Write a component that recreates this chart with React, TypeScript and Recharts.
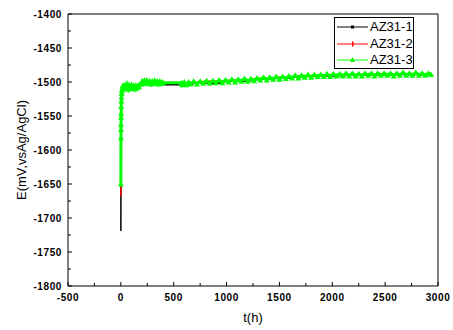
import { Legend, Line, LineChart, ReferenceLine, XAxis, YAxis } from 'recharts';

// open circuit potential vs time, [t (h), E (mV vs Ag/AgCl)]
const az31_1: [number, number][] = [
  [0, -1719], [0.5, -1680], [1, -1640], [1.5, -1612], [2, -1590], [3, -1552],
  [5, -1530], [8, -1519], [12, -1513], [20, -1510], [30, -1509], [45, -1511],
  [60, -1509], [80, -1512], [100, -1510], [120, -1512], [140, -1509], [170, -1507],
  [200, -1502], [240, -1503], [280, -1502], [320, -1503], [360, -1504], [400, -1504],
  [575, -1504], [620, -1505], [700, -1502], [800, -1501], [900, -1503], [1000, -1499],
  [1100, -1498], [1200, -1499], [1300, -1496], [1400, -1496], [1500, -1494],
  [1600, -1494], [1700, -1492], [1800, -1492], [1900, -1491], [2000, -1491],
  [2200, -1490], [2400, -1490], [2600, -1489], [2800, -1489], [2935, -1489],
];

const az31_2: [number, number][] = [
  [0, -1668], [0.5, -1640], [1, -1600], [2, -1566], [3, -1545], [5, -1526],
  [8, -1514], [12, -1507], [20, -1504], [30, -1506], [45, -1507], [60, -1505],
  [80, -1508], [100, -1506], [120, -1508], [140, -1506], [170, -1504], [200, -1499],
  [240, -1499], [280, -1500], [320, -1499], [360, -1500], [400, -1501],
  [575, -1501], [620, -1501], [700, -1501], [800, -1499], [900, -1499], [1000, -1498],
  [1100, -1497], [1200, -1497], [1300, -1495], [1400, -1495], [1500, -1493],
  [1600, -1493], [1700, -1491], [1800, -1491], [1900, -1491], [2000, -1490],
  [2200, -1490], [2400, -1489], [2600, -1489], [2800, -1488], [2935, -1489],
];

const az31_3: [number, number][] = [
  [0, -1650], [1, -1582], [1.5, -1570], [2, -1562], [2.5, -1552], [3, -1546],
  [4, -1536], [5, -1528], [6, -1522], [8, -1517], [10, -1513], [13, -1510],
  [16, -1506], [20, -1510], [25, -1505], [30, -1509], [36, -1505], [42, -1510],
  [50, -1505], [58, -1509], [66, -1505], [75, -1510], [84, -1506], [93, -1509],
  [102, -1505], [112, -1509], [122, -1506], [132, -1510], [142, -1506], [152, -1509],
  [162, -1505], [172, -1507], [182, -1503], [192, -1503], [202, -1499], [212, -1502],
  [224, -1498], [236, -1502], [248, -1498], [260, -1502], [272, -1499], [284, -1503],
  [296, -1499], [308, -1502], [320, -1498], [332, -1502], [344, -1499], [356, -1503],
  [368, -1499], [380, -1502], [392, -1500], [400, -1501],
  [575, -1501], [580, -1504], [600, -1500], [620, -1504], [640, -1500], [660, -1503],
  [690, -1499], [720, -1503], [750, -1499], [780, -1502], [810, -1498], [840, -1502],
  [870, -1498], [900, -1501], [930, -1497], [960, -1501], [990, -1497], [1020, -1500],
  [1050, -1496], [1080, -1500], [1110, -1496], [1140, -1499], [1170, -1495], [1200, -1499],
  [1230, -1495], [1260, -1498], [1290, -1494], [1320, -1497], [1350, -1493], [1380, -1497],
  [1410, -1493], [1440, -1496], [1470, -1492], [1500, -1496], [1530, -1492], [1560, -1495],
  [1590, -1491], [1620, -1494], [1650, -1490], [1680, -1494], [1710, -1490], [1740, -1493],
  [1770, -1489], [1800, -1493], [1830, -1489], [1860, -1492], [1890, -1489], [1920, -1492],
  [1950, -1488], [1980, -1492], [2010, -1488], [2040, -1491], [2070, -1488], [2100, -1491],
  [2130, -1487], [2160, -1491], [2190, -1487], [2220, -1491], [2250, -1488], [2280, -1491],
  [2310, -1487], [2340, -1490], [2370, -1487], [2400, -1491], [2430, -1487], [2460, -1490],
  [2490, -1487], [2520, -1490], [2550, -1487], [2580, -1491], [2610, -1487], [2640, -1490],
  [2670, -1486], [2700, -1490], [2730, -1487], [2760, -1490], [2790, -1486], [2820, -1490],
  [2850, -1487], [2880, -1490], [2910, -1487], [2935, -1489],
];

const xTicks = [-500, -250, 0, 250, 500, 750, 1000, 1250, 1500, 1750, 2000, 2250, 2500, 2750, 3000];
const xLabels = [-500, 0, 500, 1000, 1500, 2000, 2500, 3000];
const yTicks = [
  -1800, -1775, -1750, -1725, -1700, -1675, -1650, -1625, -1600, -1575, -1550,
  -1525, -1500, -1475, -1450, -1425, -1400,
];
const yLabels = [-1800, -1750, -1700, -1650, -1600, -1550, -1500, -1450, -1400];

const FONT = 'Arial, "Liberation Sans", sans-serif';
const X_MARGIN = 8;
const Y_MARGIN = 6;

const toRows = (pts: [number, number][]) => pts.map(([t, e]) => ({ t, e }));

const XTick = (props: any) => {
  const { x, y, payload } = props;
  const v = payload.value as number;
  const major = xLabels.includes(v);
  const axisY = y - X_MARGIN;
  return (
    <g>
      <line x1={x} x2={x} y1={axisY} y2={axisY - (major ? 4 : 3)} stroke='#000' />
      {major && (
        <text
          x={x}
          y={y}
          dy='0.72em'
          textAnchor='middle'
          fontSize={10}
          fontWeight='bold'
          letterSpacing={0.6}
          fontFamily={FONT}
          fill='#000'
        >
          {v}
        </text>
      )}
    </g>
  );
};

const YTick = (props: any) => {
  const { x, y, payload } = props;
  const v = payload.value as number;
  const major = yLabels.includes(v);
  const axisX = x + Y_MARGIN;
  return (
    <g>
      <line x1={axisX} x2={axisX + (major ? 4 : 3)} y1={y} y2={y} stroke='#000' />
      {major && (
        <text
          x={x}
          y={y}
          dy='0.36em'
          textAnchor='end'
          fontSize={10}
          fontWeight='bold'
          letterSpacing={0.6}
          fontFamily={FONT}
          fill='#000'
        >
          {v}
        </text>
      )}
    </g>
  );
};

const Triangle = (props: any) => {
  const { cx, cy, index } = props;
  if (cx == null || cy == null) return <g key={index} />;
  return (
    <path
      key={index}
      d={`M${cx},${cy - 3} L${cx + 3},${cy + 2.5} L${cx - 3},${cy + 2.5} Z`}
      fill='#00ff00'
    />
  );
};

const LegendBox = (props: any) => {
  const items = props.payload ?? [];
  return (
    <div
      style={{
        border: '1px solid #000',
        background: '#fff',
        width: 78,
        height: 49,
        paddingTop: 1,
        boxSizing: 'content-box',
        fontFamily: FONT,
        fontSize: 13,
        color: '#000',
        whiteSpace: 'nowrap',
        textAlign: 'left',
        lineHeight: '16.5px',
      }}
    >
      {items.map((it: any, i: number) => (
        <div key={i} style={{ display: 'flex', alignItems: 'center', height: 16.5 }}>
          <svg width={33} height={10} style={{ marginLeft: 1, flex: 'none' }}>
            <line x1={1} x2={32} y1={5} y2={5} stroke={it.color} strokeWidth={1} />
            {i === 0 && <rect x={15} y={3.5} width={3} height={3} fill={it.color} />}
            {i === 1 && <rect x={16} y={2.5} width={1.5} height={5} fill={it.color} />}
            {i === 2 && <path d='M16.5,2 L19,7 L14,7 Z' fill={it.color} />}
          </svg>
          <span style={{ marginLeft: 1 }}>{it.value}</span>
        </div>
      ))}
    </div>
  );
};

export default function App() {
  return (
    <div style={{ position: 'absolute', left: 0, top: 0, background: '#fff' }}>
      <LineChart width={453} height={330} margin={{ top: 14, right: 15, bottom: 0, left: 0 }}>
        <XAxis
          type='number'
          dataKey='t'
          domain={[-500, 3000]}
          ticks={xTicks}
          interval={0}
          allowDataOverflow
          height={44}
          tickSize={0}
          tickMargin={X_MARGIN}
          tickLine={false}
          axisLine={{ stroke: '#000' }}
          tick={(p: any) => <XTick {...p} />}
          label={{
            content: (p: any) => {
              const vb = p.viewBox;
              return (
                <text
                  x={vb.x + vb.width / 2}
                  y={vb.y + 31}
                  dominantBaseline='central'
                  textAnchor='middle'
                  fontSize={13}
                  fontFamily={FONT}
                  fill='#000'
                >
                  t(h)
                </text>
              );
            },
          }}
        />
        <YAxis
          type='number'
          domain={[-1800, -1400]}
          ticks={yTicks}
          interval={0}
          allowDataOverflow
          width={68}
          tickSize={0}
          tickMargin={Y_MARGIN}
          tickLine={false}
          axisLine={{ stroke: '#000' }}
          tick={(p: any) => <YTick {...p} />}
          label={{
            content: (p: any) => {
              const vb = p.viewBox;
              const cx = vb.x + 21;
              const cy = vb.y + vb.height / 2;
              return (
                <text
                  x={cx}
                  y={cy}
                  transform={`rotate(-90 ${cx} ${cy})`}
                  dominantBaseline='central'
                  textAnchor='middle'
                  fontSize={13}
                  fontFamily={FONT}
                  fill='#000'
                >
                  E(mV,vsAg/AgCl)
                </text>
              );
            },
          }}
        />
        <ReferenceLine y={-1400} stroke='#000' />
        <ReferenceLine x={3000} stroke='#000' />
        <Legend
          layout='horizontal'
          verticalAlign='middle'
          align='center'
          wrapperStyle={{ top: 17, left: 334, width: 80, height: 51 }}
          content={(p: any) => <LegendBox {...p} />}
        />
        <Line
          data={toRows(az31_1)}
          dataKey='e'
          name='AZ31-1'
          stroke='#000000'
          strokeWidth={1.5}
          dot={false}
          isAnimationActive={false}
        />
        <Line
          data={toRows(az31_2)}
          dataKey='e'
          name='AZ31-2'
          stroke='#ff0000'
          strokeWidth={1.5}
          dot={false}
          isAnimationActive={false}
        />
        <Line
          data={toRows(az31_3)}
          dataKey='e'
          name='AZ31-3'
          stroke='#00ff00'
          strokeWidth={3}
          dot={(p: any) => <Triangle {...p} />}
          isAnimationActive={false}
        />
      </LineChart>
    </div>
  );
}
